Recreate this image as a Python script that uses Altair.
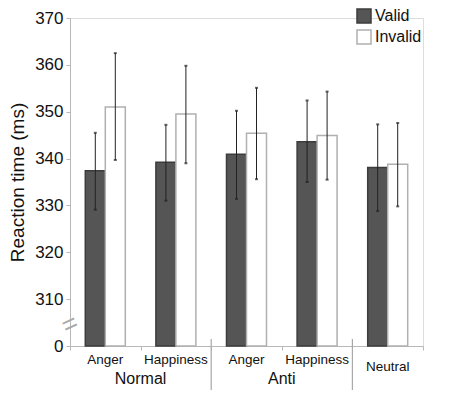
import altair as alt
import pandas as pd

# ---- data ----
conditions = ["Normal Anger", "Normal Happiness", "Anti Anger", "Anti Happiness", "Neutral"]
sub_labels = ["Anger", "Happiness", "Anger", "Happiness", "Neutral"]
cue_types = ["Valid", "Invalid"]

valid_mean = [337.4, 339.2, 340.9, 343.6, 338.1]
valid_lo = [329.1, 331.0, 331.4, 335.0, 328.8]
valid_hi = [345.5, 347.2, 350.2, 352.4, 347.3]

invalid_mean = [351.0, 349.5, 345.4, 344.9, 338.8]
invalid_lo = [339.7, 339.0, 335.6, 335.5, 329.8]
invalid_hi = [362.5, 359.8, 355.1, 354.3, 347.6]

group_names = ["Normal", "Anti"]
group_anchor = ["Normal Anger", "Anti Anger"]
separator_after = ["Normal Happiness", "Anti Happiness"]
y_ticks = [300, 310, 320, 330, 340, 350, 360, 370]
axis_base = 300

rows = []
for i, c in enumerate(conditions):
    rows.append(dict(condition=c, cue="Valid", rt=valid_mean[i], lo=valid_lo[i], hi=valid_hi[i]))
    rows.append(dict(condition=c, cue="Invalid", rt=invalid_mean[i], lo=invalid_lo[i], hi=invalid_hi[i]))
df = pd.DataFrame(rows)
df["base"] = axis_base
lab_df = pd.DataFrame(dict(condition=conditions, sub=sub_labels))
grp_df = pd.DataFrame(dict(condition=group_anchor, name=group_names))
sep_df = pd.DataFrame(dict(condition=separator_after))
brk_df = pd.DataFrame(dict(v=[304.6], s=["="]))

W, H = 353, 328
FONT = "Liberation Sans"

xscale = alt.Scale(domain=conditions, paddingInner=0, paddingOuter=0)
xoff = alt.XOffset("cue:N", scale=alt.Scale(domain=cue_types, paddingInner=0, paddingOuter=0.765))
yscale = alt.Scale(domain=[300, 370], nice=False, zero=False)

x_enc = alt.X("condition:N", scale=xscale,
              axis=alt.Axis(title=None, labels=False, tickBand="extent", tickSize=4,
                            tickColor="#b8b8b8", domainColor="#b8b8b8", grid=False))

bars = alt.Chart(df).mark_bar(strokeWidth=1.5).encode(
    x=x_enc,
    xOffset=xoff,
    y=alt.Y("rt:Q", scale=yscale,
            axis=alt.Axis(title="Reaction time (ms)", values=y_ticks,
                          labelExpr="datum.value == 300 ? '0' : datum.label",
                          grid=False, tickSize=4, tickColor="#b8b8b8", domainColor="#b8b8b8",
                          labelFontSize=17, labelFont=FONT, labelColor="#111", labelPadding=3,
                          titleFontSize=19, titleFont=FONT, titleFontWeight="normal",
                          titleColor="#111", titlePadding=7)),
    y2="base:Q",
    fill=alt.Fill("cue:N", scale=alt.Scale(domain=cue_types, range=["#555555", "#ffffff"]),
                  legend=alt.Legend(title=None, orient="none", legendX=286, legendY=-10,
                                    symbolType="square", symbolSize=196,
                                    symbolStrokeColor="#222", symbolStrokeWidth=1.5,
                                    labelFontSize=16, labelFont=FONT, labelColor="#111",
                                    labelOffset=3, rowPadding=1, padding=0)),
    stroke=alt.Stroke("cue:N", scale=alt.Scale(domain=cue_types, range=["#3c3c3c", "#b0b0b0"]),
                      legend=None),
)

err = alt.Chart(df).mark_rule(color="#222", strokeWidth=1).encode(
    x=alt.X("condition:N", scale=xscale), xOffset=xoff,
    y=alt.Y("lo:Q", scale=yscale), y2="hi:Q")
cap_lo = alt.Chart(df).mark_tick(color="#222", size=3, thickness=2).encode(
    x=alt.X("condition:N", scale=xscale), xOffset=xoff, y=alt.Y("lo:Q", scale=yscale))
cap_hi = alt.Chart(df).mark_tick(color="#222", size=3, thickness=2).encode(
    x=alt.X("condition:N", scale=xscale), xOffset=xoff, y=alt.Y("hi:Q", scale=yscale))

sub_txt = alt.Chart(lab_df).transform_filter("datum.sub != 'Neutral'").mark_text(
    fontSize=13.5, font=FONT, color="#111", baseline="middle").encode(
    x=alt.X("condition:N", scale=xscale), y=alt.value(H + 14), text="sub:N")
neu_txt = alt.Chart(lab_df).transform_filter("datum.sub == 'Neutral'").mark_text(
    fontSize=13.5, font=FONT, color="#111", baseline="middle").encode(
    x=alt.X("condition:N", scale=xscale), y=alt.value(H + 21), text="sub:N")
grp_txt = alt.Chart(grp_df).mark_text(
    fontSize=16, font=FONT, color="#111", baseline="middle").encode(
    x=alt.X("condition:N", scale=xscale, bandPosition=1), y=alt.value(H + 33), text="name:N")
seps = alt.Chart(sep_df).mark_rule(color="#a8a8a8", strokeWidth=1.2).encode(
    x=alt.X("condition:N", scale=xscale, bandPosition=1), y=alt.value(H - 7), y2=alt.value(H + 47))
brk = alt.Chart(brk_df).mark_text(fontSize=26, font=FONT, color="#aaa", angle=335).encode(
    x=alt.value(0), y=alt.Y("v:Q", scale=yscale), text="s:N")

chart = alt.layer(bars, err, cap_lo, cap_hi, sub_txt, neu_txt, grp_txt, seps, brk).properties(
    width=W, height=H,
    autosize=alt.AutoSizeParams(type="none"),
    padding={"left": 62, "top": 10, "right": 17, "bottom": 44},
).configure_view(stroke=None).configure(font=FONT)

chart.save("out.html", embed_options={"renderer": "svg", "actions": False})
